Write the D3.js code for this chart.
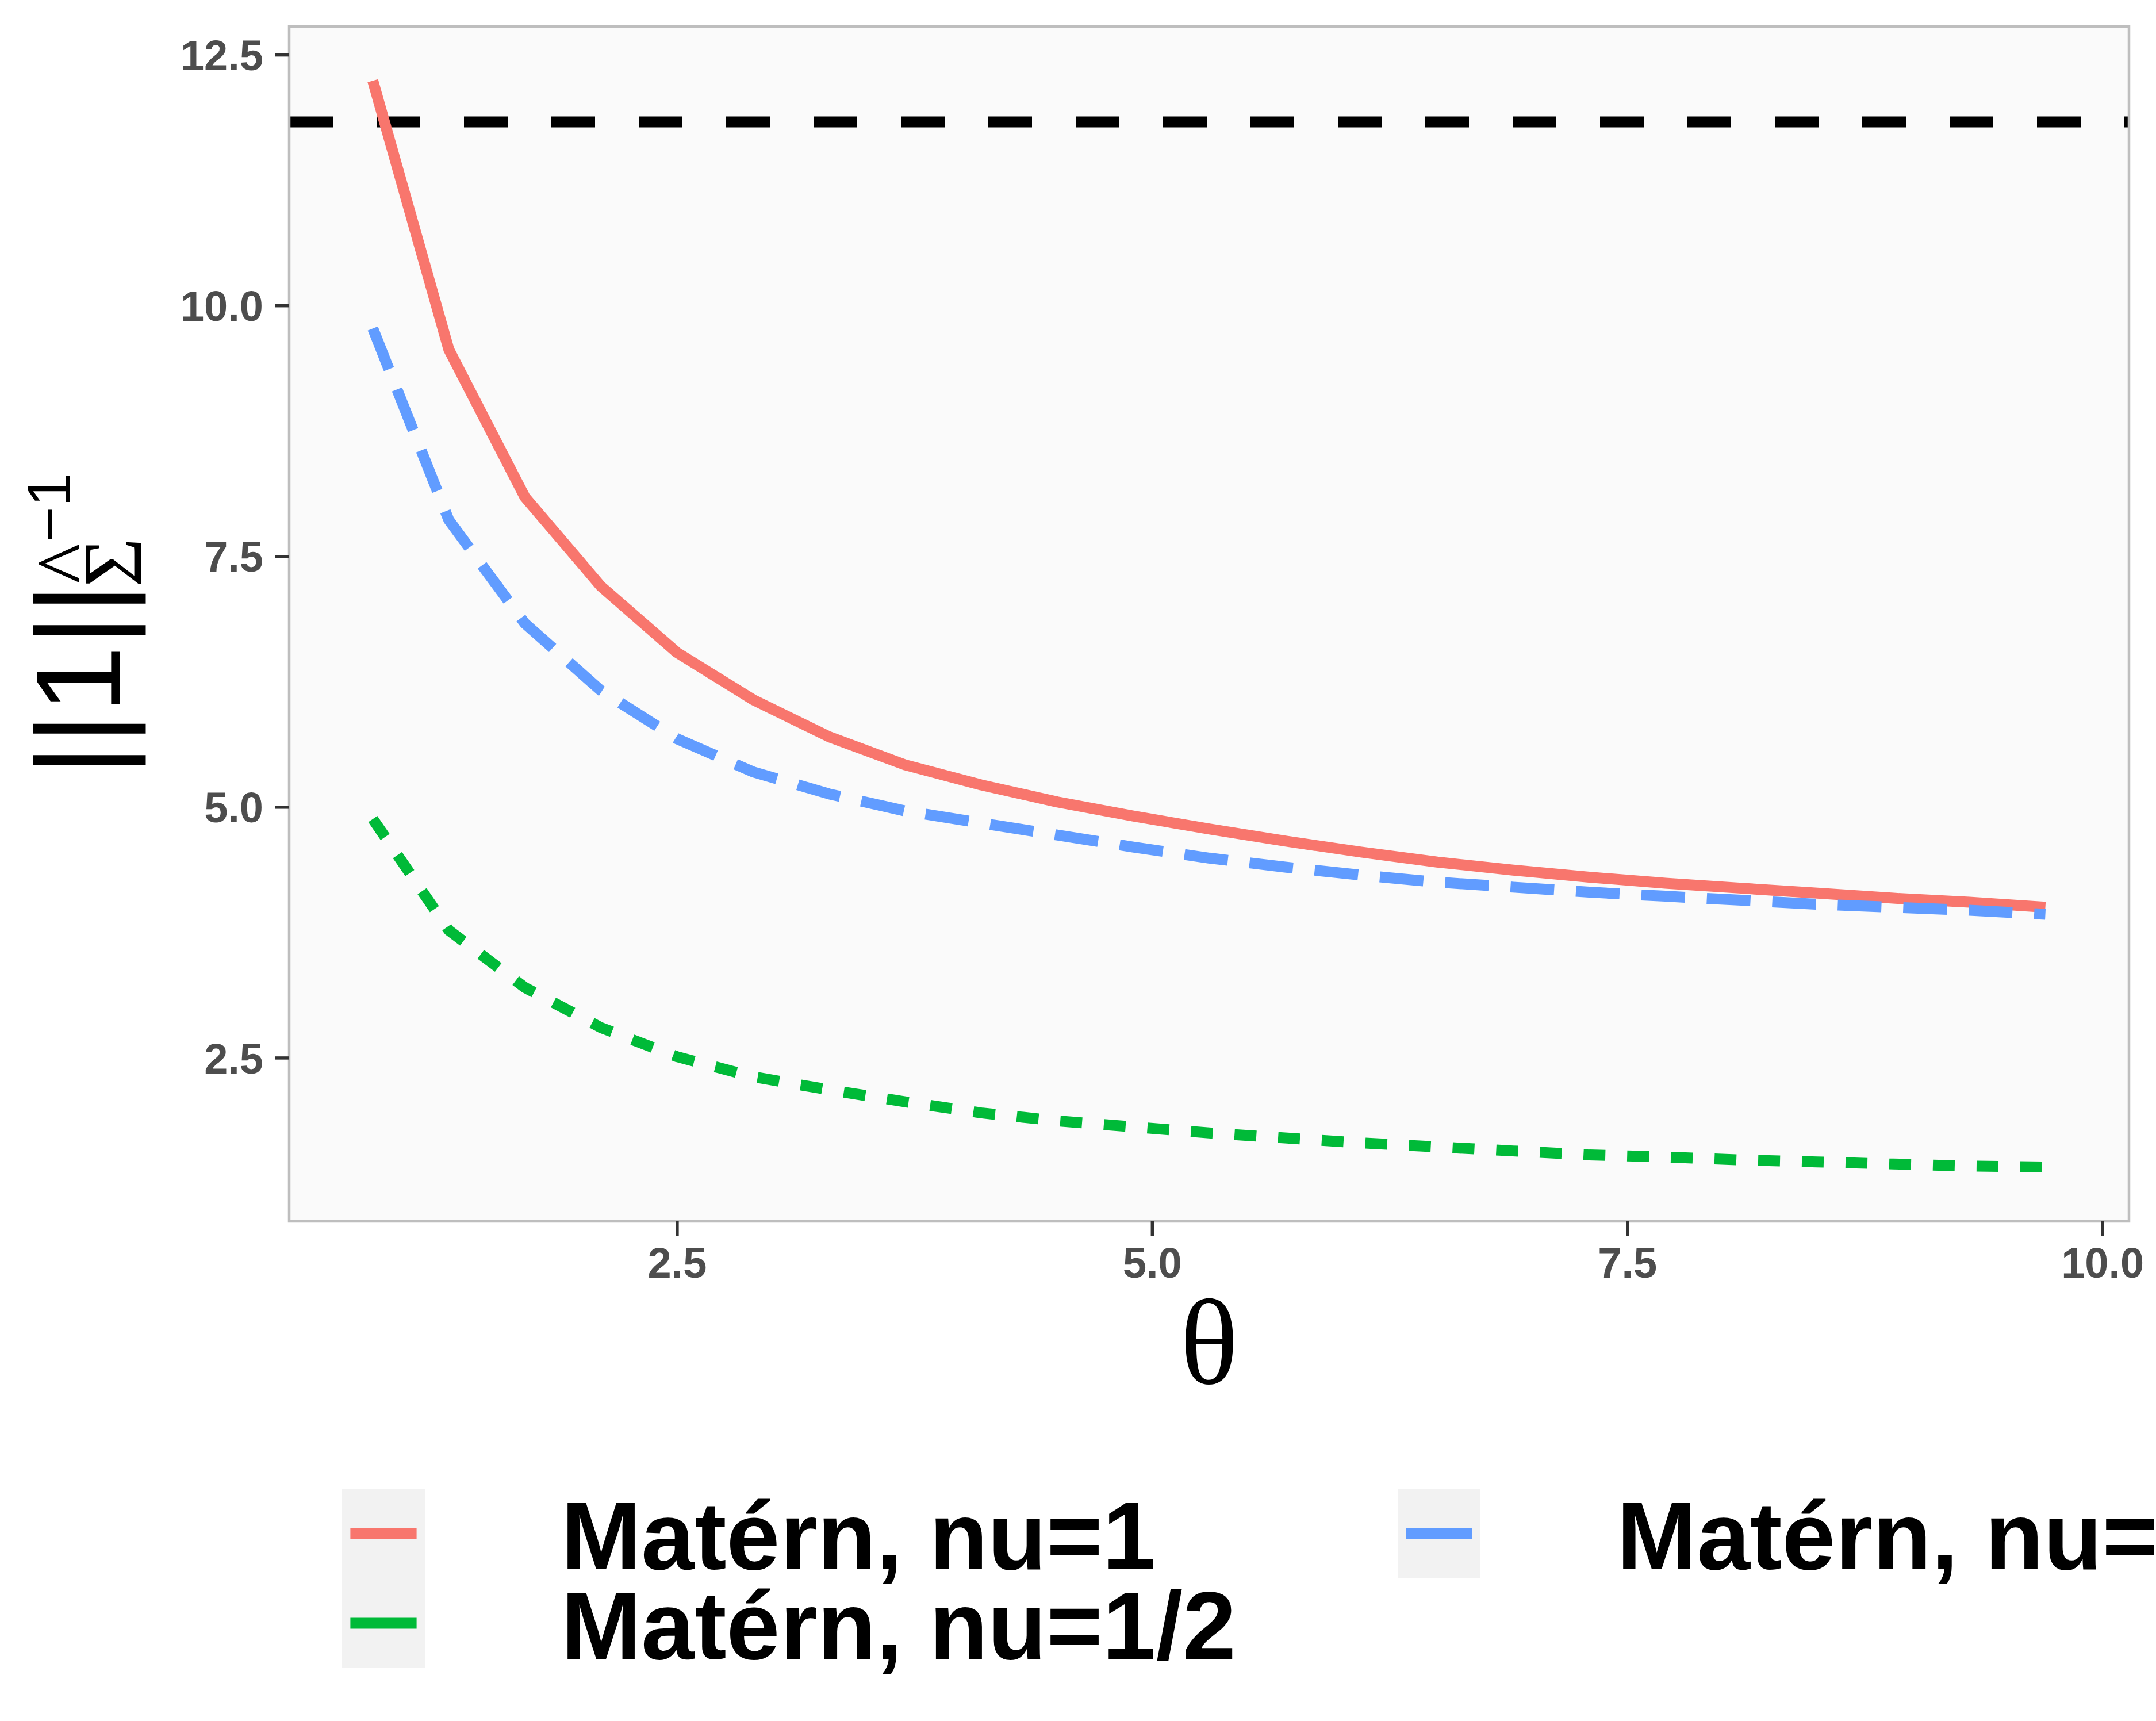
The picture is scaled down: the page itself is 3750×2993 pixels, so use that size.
<!DOCTYPE html>
<html>
<head>
<meta charset="utf-8">
<script src="https://cdn.jsdelivr.net/npm/d3@7"></script>
<style>
  html, body { margin: 0; padding: 0; background: #fff; }
  svg { display: block; }
</style>
</head>
<body>
<script>
// theta grid used in the simulation
var theta = [0.9, 1.3, 1.7, 2.1, 2.5, 2.9, 3.3, 3.7, 4.1, 4.5, 4.9, 5.3,
             5.7, 6.1, 6.5, 6.9, 7.3, 7.7, 8.1, 8.5, 8.9, 9.3, 9.7];

// ||1|| in the Sigma-hat inverse norm, per Matern smoothness
var nuOne  = [12.24, 9.56, 8.09, 7.20, 6.54, 6.07, 5.70, 5.42, 5.22, 5.05, 4.91, 4.78,
              4.66, 4.55, 4.45, 4.37, 4.30, 4.24, 4.19, 4.14, 4.09, 4.05, 4.00];
var nuHalf = [4.88, 3.77, 3.20, 2.80, 2.51, 2.31, 2.18, 2.06, 1.95, 1.87, 1.81, 1.75,
              1.70, 1.65, 1.61, 1.57, 1.53, 1.51, 1.48, 1.46, 1.44, 1.42, 1.41];
var nuThreeHalf = [9.77, 7.86, 6.83, 6.16, 5.68, 5.35, 5.13, 4.96, 4.84, 4.72, 4.60, 4.49,
              4.40, 4.32, 4.25, 4.20, 4.15, 4.11, 4.07, 4.03, 4.00, 3.97, 3.93];

var seriesNames = ["Matérn, nu=1", "Matérn, nu=1/2", "Matérn, nu=3/2"];
var refValue = 11.83;

var xTicks = [2.5, 5.0, 7.5, 10.0];
var yTicks = [2.5, 5.0, 7.5, 10.0, 12.5];

// styles (ggplot hue palette, linetypes)
var colors = ["#F8766D", "#00BA38", "#619CFF"];
var dashes = [null, "38,38", "76,38"];

var W = 3750, H = 2993;
var panel = {left: 503, right: 3703, top: 46, bottom: 2124};

var svg = d3.select("body").append("svg")
            .attr("width", W)
            .attr("height", H)
            .attr("viewBox", "0 0 " + W + " " + H);

svg.append("rect").attr("width", W).attr("height", H).attr("fill", "#fff");

var series = [nuOne, nuHalf, nuThreeHalf].map(function(v, i) {
  return {name: seriesNames[i], color: colors[i], dash: dashes[i],
          points: v.map(function(y, j) { return {x: theta[j], y: y}; })};
});

// ggplot-like 5% expansion
function expand(ext) {
  var d = (ext[1] - ext[0]) * 0.05;
  return [ext[0] - d, ext[1] + d];
}
var allY = nuOne.concat(nuHalf, nuThreeHalf);

var x = d3.scaleLinear().domain(expand(d3.extent(theta))).range([panel.left, panel.right]);
var y = d3.scaleLinear().domain(expand(d3.extent(allY))).range([panel.bottom, panel.top]);

// panel background
svg.append("rect")
   .attr("x", panel.left).attr("y", panel.top)
   .attr("width", panel.right - panel.left)
   .attr("height", panel.bottom - panel.top)
   .attr("fill", "#FAFAFA");

// reference line
svg.append("line")
   .attr("x1", panel.left).attr("x2", panel.right)
   .attr("y1", y(refValue)).attr("y2", y(refValue))
   .attr("stroke", "#000")
   .attr("stroke-width", 19)
   .attr("stroke-dasharray", "76,76");

var line = d3.line().x(function(d) { return x(d.x); }).y(function(d) { return y(d.y); });

svg.selectAll("path.series")
   .data(series)
   .enter()
   .append("path")
   .attr("class", "series")
   .attr("d", function(d) { return line(d.points); })
   .attr("fill", "none")
   .attr("stroke", function(d) { return d.color; })
   .attr("stroke-width", 19)
   .attr("stroke-linejoin", "round")
   .attr("stroke-dasharray", function(d) { return d.dash; });

// panel border
svg.append("rect")
   .attr("x", panel.left).attr("y", panel.top)
   .attr("width", panel.right - panel.left)
   .attr("height", panel.bottom - panel.top)
   .attr("fill", "none")
   .attr("stroke", "#BEBEBE")
   .attr("stroke-width", 4.5);

// axes
var xAxis = svg.append("g")
   .attr("transform", "translate(0," + panel.bottom + ")")
   .call(d3.axisBottom(x).tickValues(xTicks).tickFormat(d3.format(".1f"))
           .tickSizeInner(25).tickSizeOuter(0).tickPadding(22));
var yAxis = svg.append("g")
   .attr("transform", "translate(" + panel.left + ",0)")
   .call(d3.axisLeft(y).tickValues(yTicks).tickFormat(d3.format(".1f"))
           .tickSizeInner(25).tickSizeOuter(0).tickPadding(20));

[xAxis, yAxis].forEach(function(a) {
  a.select(".domain").remove();
  a.selectAll(".tick line").attr("stroke", "#333333").attr("stroke-width", 5.5);
  a.selectAll(".tick text")
   .attr("fill", "#4D4D4D")
   .attr("font-family", "'Liberation Sans', Arial, sans-serif")
   .attr("font-weight", "bold")
   .attr("font-size", 74);
});
xAxis.selectAll(".tick text").attr("dy", null).attr("y", 0).attr("dominant-baseline", null)
     .attr("transform", "translate(0,98)");
yAxis.selectAll(".tick text").attr("dy", "0.36em");

// x title
svg.append("text")
   .attr("x", (panel.left + panel.right) / 2)
   .attr("y", 2406)
   .attr("text-anchor", "middle")
   .attr("font-family", "'Liberation Serif', 'Times New Roman', serif")
   .attr("font-size", 212)
   .text("θ");

// y title: ||1|| with subscript Sigma-hat^-1
var yt = svg.append("g").attr("transform", "translate(209,1349) rotate(-90)");
yt.append("text")
  .attr("x", 0).attr("y", 0)
  .attr("font-family", "'Liberation Sans', Arial, sans-serif")
  .attr("font-size", 210)
  .text("||1||");
yt.append("text")
  .attr("x", 328).attr("y", 37)
  .attr("font-family", "'Liberation Serif', 'Times New Roman', serif")
  .attr("font-size", 147)
  .text("Σ");
yt.append("text")
  .attr("x", 369).attr("y", -42)
  .attr("text-anchor", "middle")
  .attr("font-family", "'Liberation Serif', 'Times New Roman', serif")
  .attr("font-size", 150)
  .text("^");
yt.append("text")
  .attr("x", 406).attr("y", -87)
  .attr("font-family", "'Liberation Sans', Arial, sans-serif")
  .attr("font-size", 106)
  .text("−1");

// legend: two rows, filled by column
var legendPos = [
  {kx: 595, ky: 2589, tx: 976},
  {kx: 595, ky: 2745, tx: 976},
  {kx: 2431, ky: 2589, tx: 2812}
];
var keyW = 144, keyH = 156;

var items = svg.selectAll("g.legend")
   .data(series)
   .enter()
   .append("g")
   .attr("class", "legend")
   .attr("transform", function(d, i) {
     return "translate(" + legendPos[i].kx + "," + legendPos[i].ky + ")";
   });

items.append("rect")
     .attr("width", keyW).attr("height", keyH)
     .attr("fill", "#F2F2F2");
items.append("line")
     .attr("x1", keyW * 0.1).attr("x2", keyW * 0.9)
     .attr("y1", keyH / 2).attr("y2", keyH / 2)
     .attr("stroke", function(d) { return d.color; })
     .attr("stroke-width", 19);
items.append("text")
     .attr("x", function(d, i) { return legendPos[i].tx - legendPos[i].kx; })
     .attr("y", 140)
     .attr("font-family", "'Liberation Sans', Arial, sans-serif")
     .attr("font-weight", "bold")
     .attr("font-size", 167)
     .attr("fill", "#000")
     .text(function(d) { return d.name; });
</script>
</body>
</html>
